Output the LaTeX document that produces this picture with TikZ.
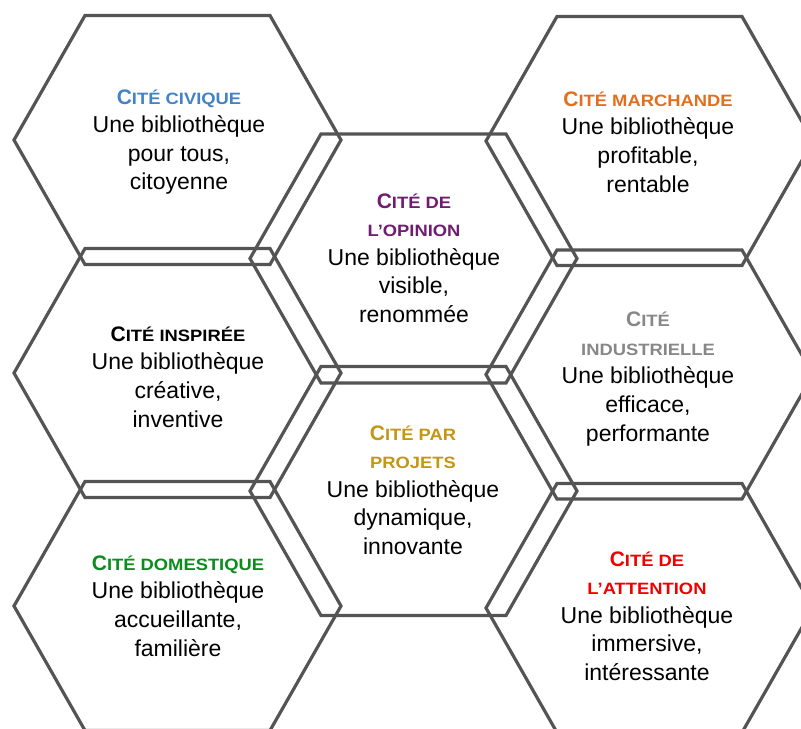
\documentclass[tikz,border=0pt]{standalone}
\usepackage{fontspec}
\usepackage{tikz}
\setmainfont{Liberation Sans}
\newfontfamily\capsfont[FakeStretch=1.12]{Liberation Sans}

\definecolor{hexgray}{RGB}{84,84,84}
\definecolor{civique}{RGB}{66,130,198}
\definecolor{marchande}{RGB}{226,110,30}
\definecolor{opinion}{RGB}{112,28,112}
\definecolor{inspiree}{RGB}{0,0,0}
\definecolor{industrielle}{RGB}{135,135,135}
\definecolor{projets}{RGB}{196,150,20}
\definecolor{domestique}{RGB}{10,140,30}
\definecolor{attention}{RGB}{240,0,0}

\newcommand{\hexcap}[1]{{\bfseries\fontsize{15.75}{21.4}\selectfont #1}}
\newcommand{\hexsc}[1]{{\capsfont\bfseries\fontsize{12.3}{21.4}\selectfont #1}}

\begin{document}
\begin{tikzpicture}[x=0.75pt,y=0.75pt,yscale=-1,xscale=1,
  hexline/.style={draw=hexgray,line width=2.4pt},
  hextext/.style={align=center,inner sep=0.75pt,font=\fontsize{17.25}{21.4}\selectfont}]
\useasboundingbox (0,0) rectangle (801,729);
\clip (0,0) rectangle (801,729);

%Shape: Hexagon [left, top]
\draw [hexline] (14,140) -- (85,15.5) -- (270,15.5) -- (341,140) -- (270,264.5) -- (85,264.5) -- cycle ;
%Shape: Hexagon [left, middle]
\draw [hexline] (14,373) -- (85,248.5) -- (270,248.5) -- (341,373) -- (270,497.5) -- (85,497.5) -- cycle ;
%Shape: Hexagon [left, bottom]
\draw [hexline] (14,606) -- (85,481.5) -- (270,481.5) -- (341,606) -- (270,730.5) -- (85,730.5) -- cycle ;
%Shape: Hexagon [centre, top]
\draw [hexline] (250,258.5) -- (321,134) -- (506,134) -- (577,258.5) -- (506,383) -- (321,383) -- cycle ;
%Shape: Hexagon [centre, bottom]
\draw [hexline] (250,491) -- (321,366.5) -- (506,366.5) -- (577,491) -- (506,615.5) -- (321,615.5) -- cycle ;
%Shape: Hexagon [right, top]
\draw [hexline] (486,141) -- (557,16.5) -- (742,16.5) -- (813,141) -- (742,265.5) -- (557,265.5) -- cycle ;
%Shape: Hexagon [right, middle]
\draw [hexline] (486,374.5) -- (557,250) -- (742,250) -- (813,374.5) -- (742,499) -- (557,499) -- cycle ;
%Shape: Hexagon [right, bottom]
\draw [hexline] (486,608) -- (557,483.5) -- (742,483.5) -- (813,608) -- (742,732.5) -- (557,732.5) -- cycle ;

% Text Node
\draw (179,142) node (civique) [hextext] {\textcolor{civique}{\hexcap{C}\hexsc{ITÉ CIVIQUE}}\\Une bibliothèque\\pour tous,\\citoyenne};
% Text Node
\draw (178,377) node (inspiree) [hextext] {\textcolor{inspiree}{\hexcap{C}\hexsc{ITÉ INSPIRÉE}}\\Une bibliothèque\\créative,\\inventive};
% Text Node
\draw (178,606) node (domestique) [hextext] {\textcolor{domestique}{\hexcap{C}\hexsc{ITÉ DOMESTIQUE}}\\Une bibliothèque\\accueillante,\\familière};
% Text Node
\draw (414,258) node (opinion) [hextext] {\textcolor{opinion}{\hexcap{C}\hexsc{ITÉ DE}}\\\textcolor{opinion}{\hexsc{L’OPINION}}\\Une bibliothèque\\visible,\\renommée};
% Text Node
\draw (413,490) node (projets) [hextext] {\textcolor{projets}{\hexcap{C}\hexsc{ITÉ PAR}}\\\textcolor{projets}{\hexsc{PROJETS}}\\Une bibliothèque\\dynamique,\\innovante};
% Text Node
\draw (648,142) node (marchande) [hextext] {\textcolor{marchande}{\hexcap{C}\hexsc{ITÉ MARCHANDE}}\\Une bibliothèque\\profitable,\\rentable};
% Text Node
\draw (648,379) node (industrielle) [hextext] {\textcolor{industrielle}{\hexcap{C}\hexsc{ITÉ}}\\\textcolor{industrielle}{\hexsc{INDUSTRIELLE}}\\Une bibliothèque\\efficace,\\performante};
% Text Node
\draw (647,616) node (attention) [hextext] {\textcolor{attention}{\hexcap{C}\hexsc{ITÉ DE}}\\\textcolor{attention}{\hexsc{L’ATTENTION}}\\Une bibliothèque\\immersive,\\intéressante};

\end{tikzpicture}
\end{document}
